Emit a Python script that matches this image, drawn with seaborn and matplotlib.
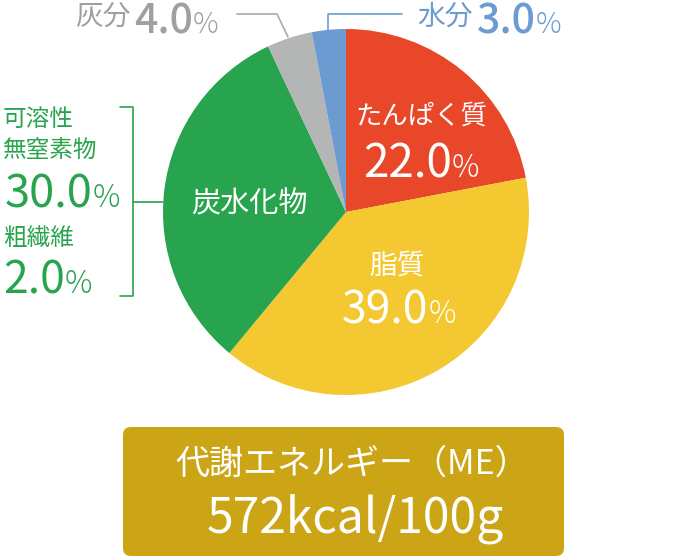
import matplotlib
matplotlib.use("Agg")
import matplotlib.pyplot as plt
from matplotlib.patches import FancyBboxPatch
import seaborn as sns

# composition (clockwise from 12 o'clock)
names = ["たんぱく質", "脂質", "炭水化物", "灰分", "水分"]
shares = [22.0, 39.0, 32.0, 4.0, 3.0]
carb_parts = ["可溶性", "無窒素物", "粗繊維"]
carb_values = [30.0, 2.0]
energy_title = "代謝エネルギー（ME）"
energy_value = "572kcal/100g"

colors = ["#E8472A", "#F4C830", "#28A44E", "#B4B5B5", "#6B9BD1"]

sns.set_style("white")
plt.rcParams["font.family"] = ["Noto Sans CJK JP", "DejaVu Sans"]

W, H = 688, 560
fig = plt.figure(figsize=(W / 100, H / 100), dpi=100)
ax = fig.add_axes([0, 0, 1, 1])

cx, cy, r = 346, 212, 183
ax.pie(shares, colors=colors, startangle=-90, counterclock=True,
       center=(cx, cy), radius=r, wedgeprops=dict(linewidth=0))
ax.set_xlim(0, W)
ax.set_ylim(H, 0)
ax.set_aspect("equal")
ax.axis("off")

renderer = fig.canvas.get_renderer()
white = "white"
green = "#28A44E"
grey_txt = "#9FA0A0"
blue_txt = "#6B9BD1"


def pct(x, y, value, color, big, small, weight="normal", gap=0):
    t = ax.text(x, y, f"{value:.1f}", color=color, fontsize=big, ha="left",
                va="baseline", fontweight=weight)
    right = t.get_window_extent(renderer).x1
    ax.text(right + gap, y, "%", color=color, fontsize=small, ha="left",
            va="baseline", fontweight="light")


# labels inside the pie
ax.text(421, 116, names[0], color=white, fontsize=19, ha="center", va="center")
pct(363, 177, shares[0], white, 33, 22)
ax.text(397, 266, names[1], color=white, fontsize=20, ha="center", va="center")
pct(342, 323, shares[1], white, 32, 22)
ax.text(249, 204, names[2], color=white, fontsize=21, ha="center", va="center")

# ash label
ax.text(131, 17, names[3], color=grey_txt, fontsize=20, ha="right", va="center")
pct(134, 33, shares[3], grey_txt, 29.5, 20.5, weight="medium")
ax.plot([237, 277, 288], [14, 14, 37], color="#AAAAAA", lw=1.2)

# water label
ax.text(473, 17, names[4], color=blue_txt, fontsize=20, ha="right", va="center")
pct(477, 33, shares[4], blue_txt, 29.5, 20.5, weight="medium")
ax.plot([402, 328, 328], [14, 14, 31], color=blue_txt, lw=1.2)

# carbohydrate breakdown
ax.text(3, 119, carb_parts[0], color=green, fontsize=17, ha="left", va="center")
ax.text(3, 150, carb_parts[1], color=green, fontsize=17, ha="left", va="center")
pct(5, 207, carb_values[0], green, 32.5, 22)
ax.text(3, 238, carb_parts[2], color=green, fontsize=17, ha="left", va="center")
pct(3, 293, carb_values[1], green, 32, 22)
ax.plot([120, 133, 133, 120], [107, 107, 296, 296], color=green, lw=1.2)
ax.plot([133, 163], [202, 202], color=green, lw=1.2)

# energy box
box = FancyBboxPatch((123, 427), 441, 129, boxstyle="round,pad=0,rounding_size=8",
                     facecolor="#CCA517", edgecolor="none")
ax.add_patch(box)
ax.text(352, 464, energy_title, color=white, fontsize=24.5, ha="center", va="center")
ax.text(207, 532, energy_value, color=white, fontsize=34.5, ha="left", va="baseline")

fig.savefig("out.png", dpi=100)
